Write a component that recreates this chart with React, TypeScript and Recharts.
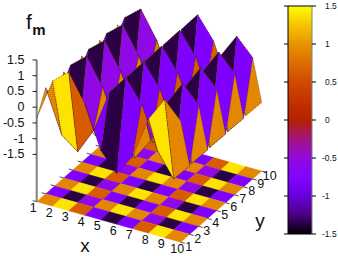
import React from 'react';
import { ScatterChart, ComposedChart, Scatter, Bar, XAxis, YAxis, ReferenceLine } from 'recharts';

// surface heights, one row per y = 1..10
const zOddRow = [-0.35, 0.98, 1.4, 0.55, -0.8, -1.4, -0.7, 0.63, 1.39, 0.85];
const zEvenRow = [0.37, -0.99, -1.38, -0.56, 0.8, 1.4, 0.7, -0.63, -1.39, -0.82];
const zRows = [zOddRow, zEvenRow, zOddRow, zEvenRow, zOddRow, zEvenRow, zOddRow, zEvenRow, zOddRow, zEvenRow];

const palette: Record<string, string> = {
  O: '#e58600',
  Y: '#ffe300',
  D: '#d95b00',
  P: '#8000ff',
  M: '#9008e6',
  K: '#2c0044',
};
const cellOddRow = ['O', 'Y', 'D', 'P', 'K', 'P', 'D', 'Y', 'O'];
const cellEvenRow = ['P', 'K', 'M', 'O', 'Y', 'O', 'M', 'K', 'P'];
const cellRows = [cellOddRow, cellEvenRow, cellOddRow, cellEvenRow, cellOddRow, cellEvenRow, cellOddRow, cellEvenRow, cellOddRow];

const xTicks = [1, 2, 3, 4, 5, 6, 7, 8, 9, 10];
const yTicks = [1, 2, 3, 4, 5, 6, 7, 8, 9, 10];
const zTicks = [1.5, 1, 0.5, 0, -0.5, -1, -1.5];
const colorTicks = [1.5, 1, 0.5, 0, -0.5, -1, -1.5];
const colorStops = ['#ffff00', '#f4c400', '#e89400', '#dd6c00', '#d04b00', '#c33200', '#b42000', '#a41380', '#9309dd', '#8004ff', '#6801dd', '#4a0080', '#000000'];
const colorRange = [{ name: 'cb', range: [-1.5, 1.5] }];

const FLOOR = -3;
const FONT = '"Liberation Sans", Arial, sans-serif';

// gnuplot's view of the box, in page pixels
const project = (x: number, y: number, z: number) => ({
  px: 36.7 + 16 * (x - 1) + 9 * (y - 1),
  py: 201.7 + 4.5 * (x - 1) - 7.9 * (y - 1) - 31.5 * (z - FLOOR),
});

const noDot = () => <g />;

const label = (text: string, size: number, anchor: string, weight?: string) => (p: any) => (
  <text x={p.cx} y={p.cy} fontSize={size} fontFamily={FONT} fontWeight={weight} textAnchor={anchor} dominantBaseline="central" fill="#111">
    {text}
  </text>
);

const Poly = (key: string, pts: { px: number; py: number }[], fill: string, stroke: string, width: number, dash?: string) => (
  <Scatter
    key={key}
    data={[...pts, pts[0]]}
    shape={noDot}
    line={{ fill, stroke, strokeWidth: width, strokeDasharray: dash }}
    isAnimationActive={false}
  />
);

const Segment = (key: string, a: { px: number; py: number }, b: { px: number; py: number }, stroke: string, width: number) => (
  <Scatter key={key} data={[a, b]} shape={noDot} line={{ stroke, strokeWidth: width, fill: 'none' }} isAnimationActive={false} />
);

const Text = (key: string, at: { px: number; py: number }, text: string, size: number, anchor = 'middle', weight?: string) => (
  <Scatter key={key} data={[at]} shape={label(text, size, anchor, weight)} isAnimationActive={false} />
);

export default function App() {
  const floor: React.ReactNode[] = [];
  const surface: React.ReactNode[] = [];
  for (let j = 8; j >= 0; j--) {
    for (let i = 0; i < 9; i++) {
      const fill = palette[cellRows[j][i]];
      const x = i + 1;
      const y = j + 1;
      floor.push(
        Poly(`f${i}-${j}`, [project(x, y, FLOOR), project(x + 1, y, FLOOR), project(x + 1, y + 1, FLOOR), project(x, y + 1, FLOOR)], fill, fill, 0.4)
      );
      surface.push(
        Poly(
          `s${i}-${j}`,
          [project(x, y, zRows[j][i]), project(x + 1, y, zRows[j][i + 1]), project(x + 1, y + 1, zRows[j + 1][i + 1]), project(x, y + 1, zRows[j + 1][i])],
          fill,
          '#1a1a1a',
          0.5,
          '1 1'
        )
      );
    }
  }

  return (
    <div style={{ position: 'absolute', left: 0, top: 0, width: 338, height: 256, background: '#fff' }}>
      <div style={{ position: 'absolute', left: 0, top: 0 }}>
        <ComposedChart width={338} height={256} data={colorRange} barCategoryGap={0} margin={{ top: 6, right: 0, bottom: 22, left: 283 }}>
          <defs>
            <linearGradient id="cbGrad" x1="0" y1="0" x2="0" y2="1">
              {colorStops.map((c, i) => (
                <stop key={c} offset={i / (colorStops.length - 1)} stopColor={c} />
              ))}
            </linearGradient>
          </defs>
          <XAxis hide dataKey="name" />
          <YAxis yAxisId="l" orientation="left" width={5} domain={[-1.5, 1.5]} allowDataOverflow ticks={colorTicks} interval={0} tick={noDot} tickSize={4} stroke="#000" />
          <YAxis
            yAxisId="r"
            orientation="right"
            width={26}
            domain={[-1.5, 1.5]}
            allowDataOverflow
            ticks={colorTicks}
            interval={0}
            tickSize={4}
            axisLine={{ stroke: '#808080' }}
            tickLine={{ stroke: '#000' }}
            tick={(p: any) => (
              <text x={p.payload.value < 0 ? 322 : 325} y={p.y} fontSize={8.5} fontFamily={FONT} dominantBaseline="central" fill="#111">
                {String(p.payload.value)}
              </text>
            )}
          />
          <Bar yAxisId="r" dataKey="range" fill="url(#cbGrad)" isAnimationActive={false} />
          <ReferenceLine yAxisId="r" y={1.5} stroke="#000" />
          <ReferenceLine yAxisId="r" y={-1.5} stroke="#000" />
        </ComposedChart>
      </div>
      <div style={{ position: 'absolute', left: 0, top: 0 }}>
        <ScatterChart width={338} height={256} margin={{ top: 0, right: 0, bottom: 0, left: 0 }}>
          <XAxis hide type="number" dataKey="px" domain={[0, 338]} />
          <YAxis hide type="number" dataKey="py" domain={[0, 256]} reversed />
          {Segment('zaxis', project(1, 1, FLOOR), project(1, 1, 1.5), '#808080', 2)}
          {zTicks.map((z) => Segment(`zt${z}`, { px: 32.5, py: project(1, 1, z).py }, project(1, 1, z), '#222', 1))}
          {zTicks.map((z) => Text(`zl${z}`, { px: 24.5, py: project(1, 1, z).py }, String(z), 12.5, 'end'))}
          {floor}
          {yTicks.map((y) => Segment(`yt${y}`, project(1, y, FLOOR), project(0.75, y, FLOOR), '#222', 0.8))}
          {yTicks.map((y) => Segment(`yr${y}`, project(10, y, FLOOR), project(10.25, y, FLOOR), '#222', 0.8))}
          {xTicks.map((x) => Text(`xl${x}`, { px: project(x, 1, FLOOR).px - 3.5, py: project(x, 1, FLOOR).py + 6.5 }, String(x), 12.5))}
          {yTicks.map((y) => Text(`yl${y}`, { px: project(10, y, FLOOR).px + 8, py: project(10, y, FLOOR).py + 4.5 }, String(y), 12.5))}
          {Text('xname', { px: 85, py: 245 }, 'x', 19)}
          {Text('yname', { px: 260, py: 220 }, 'y', 19)}
          {Text('fname', { px: 29, py: 21 }, 'f', 21)}
          {Text('mname', { px: 39, py: 29 }, 'm', 15, 'middle', 'bold')}
          {surface}
        </ScatterChart>
      </div>
    </div>
  );
}
